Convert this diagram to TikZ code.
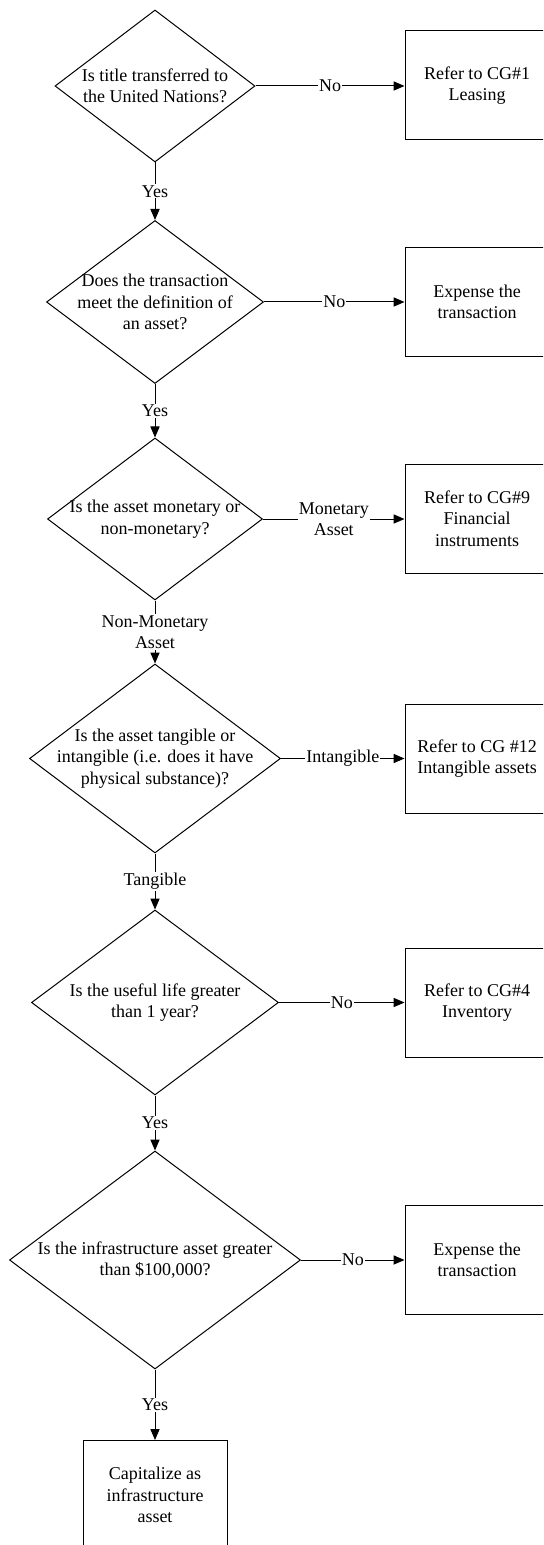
\documentclass[tikz,border=0pt]{standalone}
\usepackage{fontspec}
\setmainfont{Liberation Serif}
\usetikzlibrary{shapes.geometric,arrows.meta}
\begin{document}
\begin{tikzpicture}[x=0.5pt,y=-0.5pt,line width=0.5pt,
  tfont/.style={font=\fontsize{9pt}{10.75pt}\selectfont},
  dia/.style={draw, diamond, inner sep=0pt},
  txt/.style={tfont, align=center, inner sep=0pt},
  box/.style={draw, rectangle, tfont, align=center, inner sep=0pt,
              minimum width=72pt, minimum height=54.5pt},
  lbl/.style={tfont, align=center, fill=white, inner sep=0.6pt},
  arr/.style={-{Triangle[length=5.5pt,width=4.6pt]}}]
\useasboundingbox (0,0) rectangle (543,1545);
\clip (0,0) rectangle (543,1545);

% decisions
\node[dia, minimum width=100pt,   minimum height=76pt]   (d1) at (155,86) {};
\node[txt] (t1) at (d1) {Is title transferred to\\the United Nations?};
\node[dia, minimum width=108.5pt, minimum height=81.5pt] (d2) at (155,302) {};
\node[txt] (t2) at (d2) {Does the transaction\\meet the definition of\\an asset?};
\node[dia, minimum width=107.5pt, minimum height=81pt]   (d3) at (155,519) {};
\node[txt] (t3) at (d3) {Is the asset monetary or\\non-monetary?};
\node[dia, minimum width=125.5pt, minimum height=94.5pt] (d4) at (155,758.5) {};
\node[txt] (t4) at (d4) {Is the asset tangible or\\intangible (i.e. does it have\\physical substance)?};
\node[dia, minimum width=123.5pt, minimum height=92.5pt] (d5) at (155,1002.5) {};
\node[txt] (t5) at (d5) {Is the useful life greater\\than 1 year?};
\node[dia, minimum width=145.5pt, minimum height=109pt]  (d6) at (155,1260) {};
\node[txt] (t6) at (d6) {Is the infrastructure asset greater\\than \$100,000?};

% outcome boxes
\node[box] (b1) at (477,85.5)  {Refer to CG\#1\\Leasing};
\node[box] (b2) at (477,302)   {Expense the\\transaction};
\node[box] (b3) at (477,518.5) {Refer to CG\#9\\Financial\\instruments};
\node[box] (b4) at (477,758.5) {Refer to CG \#12\\Intangible assets};
\node[box] (b5) at (477,1002.5){Refer to CG\#4\\Inventory};
\node[box] (b6) at (477,1260)  {Expense the\\transaction};
\node[box] (b7) at (155,1495)  {Capitalize as\\infrastructure\\asset};

% horizontal connectors
\draw[arr] (d1.east) -- node[lbl] {No} (b1.west |- d1.east);
\draw[arr] (d2.east) -- node[lbl] {No} (b2.west);
\draw[arr] (d3.east) -- node[lbl] {Monetary\\Asset} (b3.west |- d3.east);
\draw[arr] (d4.east) -- node[lbl] {Intangible} (b4.west);
\draw[arr] (d5.east) -- node[lbl] {No} (b5.west);
\draw[arr] (d6.east) -- node[lbl] {No} (b6.west);

% vertical connectors
\draw[arr] (d1.south) -- node[lbl] {Yes} (d2.north);
\draw[arr] (d2.south) -- node[lbl] {Yes} (d3.north);
\draw[arr] (d3.south) -- node[lbl] {Non-Monetary\\Asset} (d4.north);
\draw[arr] (d4.south) -- node[lbl] {Tangible} (d5.north);
\draw[arr] (d5.south) -- node[lbl] {Yes} (d6.north);
\draw[arr] (d6.south) -- node[lbl] {Yes} (b7.north);
\end{tikzpicture}
\end{document}
